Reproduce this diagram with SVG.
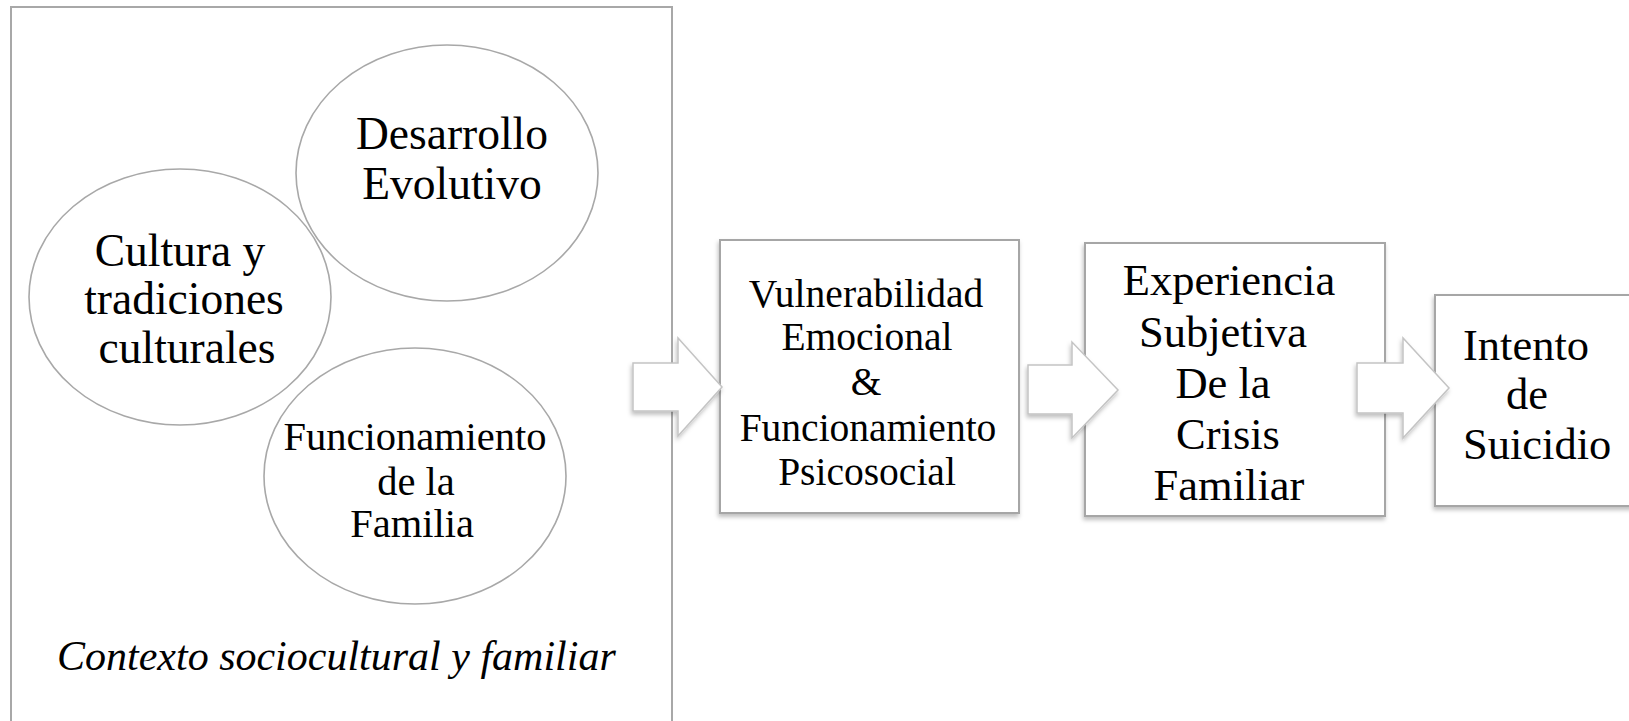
<svg xmlns="http://www.w3.org/2000/svg" width="1629" height="721" viewBox="0 0 1629 721">
<style>
.frame{fill:#fff;stroke:#a8a8a8;stroke-width:2}
.oval{fill:none;stroke:#a8a8a8;stroke-width:1.6}
.box{fill:#fff;stroke:#a6a6a6;stroke-width:2}
.arrow{fill:#fff;stroke:#c4c4c4;stroke-width:1.5}
text{font-family:'Liberation Serif','Times New Roman',serif;fill:#000}
.c{text-anchor:middle}
</style>
<defs>
<filter id="sh" x="-20%" y="-20%" width="140%" height="140%">
<feDropShadow dx="-1" dy="3" stdDeviation="2" flood-color="#000" flood-opacity="0.25"/>
</filter>
</defs>
<rect width="1629" height="721" fill="#fff"/>
<g id="contexto">
<rect class="frame" x="11" y="7" width="661" height="730"/>
<text x="57" y="670" font-size="42" font-style="italic">Contexto sociocultural y familiar</text>
</g>
<g id="desarrollo">
<ellipse class="oval" cx="447" cy="173" rx="151" ry="128"/>
<text class="c" font-size="45.5"><tspan x="452" y="149">Desarrollo</tspan><tspan x="452" y="199">Evolutivo</tspan></text>
</g>
<g id="cultura">
<ellipse class="oval" cx="180" cy="297" rx="151" ry="128"/>
<text class="c" font-size="45.5"><tspan x="180" y="266">Cultura y</tspan><tspan x="184" y="314">tradiciones</tspan><tspan x="187" y="363">culturales</tspan></text>
</g>
<g id="funcionamiento">
<ellipse class="oval" cx="415" cy="476" rx="151" ry="128"/>
<text class="c" font-size="40.5"><tspan x="415" y="450">Funcionamiento</tspan><tspan x="416" y="495">de la</tspan><tspan x="412" y="537">Familia</tspan></text>
</g>
<g id="vulnerabilidad">
<rect class="box" x="720" y="240" width="299" height="273" filter="url(#sh)"/>
<text class="c" font-size="39.5"><tspan x="866" y="307">Vulnerabilidad</tspan><tspan x="867" y="350">Emocional</tspan><tspan x="866" y="395">&amp;</tspan><tspan x="868" y="441">Funcionamiento</tspan><tspan x="867" y="485">Psicosocial</tspan></text>
</g>
<g id="experiencia">
<rect class="box" x="1085" y="243" width="300" height="273" filter="url(#sh)"/>
<text class="c" font-size="44.5"><tspan x="1229" y="295">Experiencia</tspan><tspan x="1223" y="347">Subjetiva</tspan><tspan x="1223" y="398">De la</tspan><tspan x="1228" y="449">Crisis</tspan><tspan x="1229" y="500">Familiar</tspan></text>
</g>
<g id="intento">
<rect class="box" x="1435" y="295" width="210" height="211" filter="url(#sh)"/>
<text font-size="44.5"><tspan x="1463" y="360">Intento</tspan><tspan x="1506" y="409">de</tspan><tspan x="1463" y="459">Suicidio</tspan></text>
</g>
<g id="connectors">
<polygon class="arrow" filter="url(#sh)" points="633,363 678,363 678,338 722,387 678,436 678,411 633,411"/>
<polygon class="arrow" filter="url(#sh)" points="1028,365 1072,365 1072,342 1118,390 1072,438 1072,414 1028,414"/>
<polygon class="arrow" filter="url(#sh)" points="1357,363 1403,363 1403,338 1449,388 1403,438 1403,413 1357,413"/>
</g>
</svg>
